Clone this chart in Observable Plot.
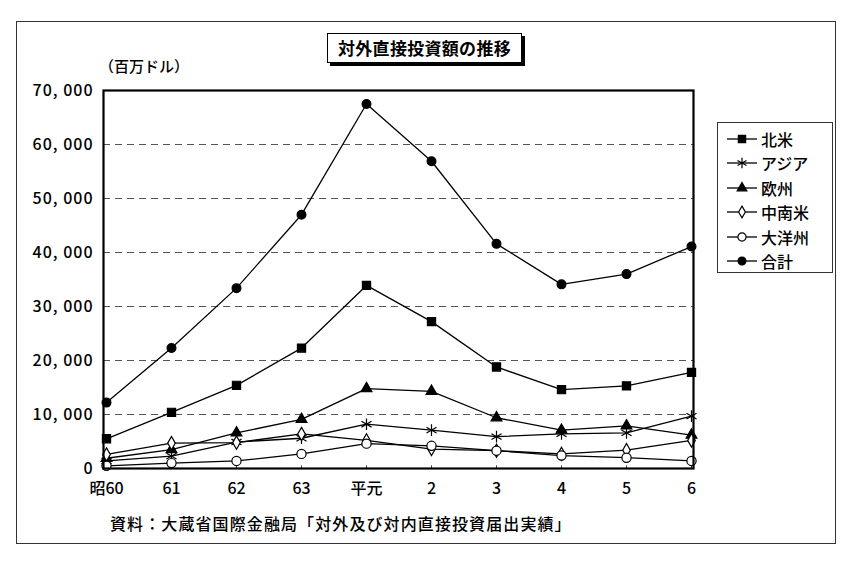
<!DOCTYPE html>
<html>
<head>
<meta charset="utf-8">
<script src="https://cdn.jsdelivr.net/npm/d3@7"></script>
<script src="https://cdn.jsdelivr.net/npm/@observablehq/plot@0.6"></script>
<style>
  body { margin: 0; background: #fff; font-family: 'Noto Sans CJK JP', sans-serif; color: #000; font-weight: 500; }
  #wrap { position: relative; width: 850px; height: 565px; overflow: hidden; }
  #wrap svg.plot { position: absolute; left: 0; top: 0; }
  #outer { position: absolute; left: 16px; top: 21px; width: 818px; height: 521px; border: 1px solid #333; }
  #title { position: absolute; left: 327px; top: 33px; width: 193px; height: 28px; border: 1.5px solid #000;
           box-shadow: 3px 3px 0 #000; background: #fff; font-weight: bold; font-size: 17px;
           line-height: 28px; text-align: center; letter-spacing: 0.3px; }
  #unit { position: absolute; left: 99px; top: 55px; font-size: 15px; }
  #legend { position: absolute; left: 717px; top: 122px; width: 114px; height: 149px; border: 1px solid #333; background: #fff; }
  .row { position: absolute; left: 8px; height: 20px; display: flex; align-items: center; font-size: 16px; }
  .row svg { margin-right: 3px; }
  #source { position: absolute; left: 110px; top: 511px; font-size: 16px; letter-spacing: 1.1px; }
  g[aria-label="y-axis tick label"] text { letter-spacing: 1px; }
</style>
</head>
<body>
<div id="wrap">
  <div id="outer"></div>
  <div id="unit">（百万ドル）</div>
  <div id="title">対外直接投資額の推移</div>
  <div id="legend"></div>
  <div id="source">資料：大蔵省国際金融局「対外及び対内直接投資届出実績」</div>
</div>
<script>
const years = ["昭60", "61", "62", "63", "平元", "2", "3", "4", "5", "6"];
const seriesNames = ["北米", "アジア", "欧州", "中南米", "大洋州", "合計"];
const northAmerica = [5500, 10400, 15400, 22300, 33900, 27200, 18800, 14600, 15300, 17800];
const asia = [1400, 2300, 4900, 5600, 8200, 7100, 5900, 6400, 6600, 9700];
const europe = [1900, 3500, 6600, 9100, 14800, 14300, 9400, 7100, 7900, 6200];
const latinAmerica = [2600, 4700, 4800, 6400, 5200, 3600, 3300, 2700, 3400, 5200];
const oceania = [500, 1000, 1400, 2700, 4600, 4200, 3300, 2400, 2000, 1400];
const total = [12200, 22300, 33400, 47000, 67500, 56900, 41600, 34100, 36000, 41100];
const yTicks = [0, 10000, 20000, 30000, 40000, 50000, 60000, 70000];

const valuesBySeries = [northAmerica, asia, europe, latinAmerica, oceania, total];
const styles = [
  {symbol: "square", fill: "black", stroke: "black", r: 4.6},
  {symbol: "asterisk", fill: "none", stroke: "black", r: 5.5},
  {symbol: "triangle", fill: "black", stroke: "black", r: 4},
  {symbol: "diamond", fill: "white", stroke: "black", r: 4},
  {symbol: "circle", fill: "white", stroke: "black", r: 4.6},
  {symbol: "circle", fill: "black", stroke: "black", r: 4.4}
];

const data = [];
seriesNames.forEach((s, i) => valuesBySeries[i].forEach((v, j) => data.push({series: s, year: years[j], value: v})));

const fmt = d => d3.format(",")(d).replace(",", ", ");

const marks = [
  Plot.ruleY(yTicks.filter(d => d > 0 && d < 70000), {stroke: "#555", strokeWidth: 1, strokeDasharray: "7,5"}),
  Plot.ruleX(years, {x: d => d, y1: 0, y2: 500, stroke: "#444", strokeWidth: 1}),
  Plot.line(data, {x: "year", y: "value", z: "series", stroke: "black", strokeWidth: 1.3})
];
seriesNames.forEach((s, i) => {
  const st = styles[i];
  marks.push(Plot.dot(data.filter(d => d.series === s), {x: "year", y: "value", symbol: st.symbol, fill: st.fill, stroke: st.stroke, r: st.r, strokeWidth: 1.2}));
});
marks.push(Plot.frame({stroke: "black", strokeWidth: 2.2}));

const chart = Plot.plot({
  width: 850, height: 565,
  marginLeft: 103, marginRight: 157, marginTop: 90, marginBottom: 97,
  style: {fontFamily: "'Noto Sans CJK JP', sans-serif", fontSize: "16px", fontWeight: 500, color: "#000", background: "transparent", overflow: "visible"},
  x: {type: "point", domain: years, padding: 0, label: null, tickSize: 0, tickPadding: 14},
  y: {domain: [0, 70000], ticks: yTicks, tickFormat: fmt, label: null, tickSize: 0, tickPadding: 10},
  marks
});
document.getElementById("wrap").appendChild(chart);

// legend
const legend = document.getElementById("legend");
seriesNames.forEach((s, i) => {
  const st = styles[i];
  const row = document.createElement("div");
  row.className = "row";
  row.style.top = (6 + i * 24.4) + "px";
  const sym = {square: d3.symbolSquare, asterisk: d3.symbolAsterisk, triangle: d3.symbolTriangle, diamond: d3.symbolDiamond, circle: d3.symbolCircle}[st.symbol];
  const size = Math.PI * st.r * st.r * 0.8;
  const path = d3.symbol(sym, size)();
  row.innerHTML = `<svg width="32" height="16"><line x1="1" x2="31" y1="8" y2="8" stroke="black" stroke-width="1.3"/><path d="${path}" transform="translate(16,8)" fill="${st.fill}" stroke="${st.stroke}" stroke-width="1.2"/></svg><span>${s}</span>`;
  legend.appendChild(row);
});
</script>
</body>
</html>
